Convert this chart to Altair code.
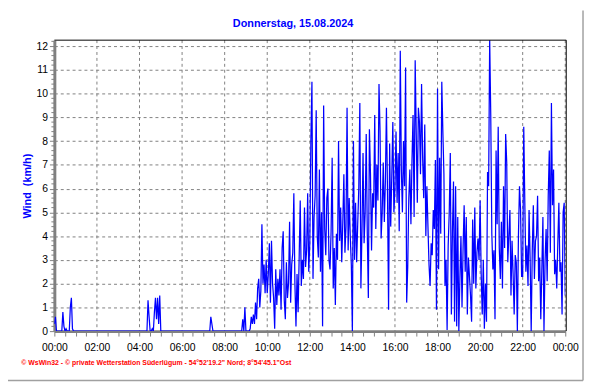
import altair as alt
import pandas as pd

# Wind speed (km/h), 3-minute samples, one list per hour (20 values each)
h00 = [0.3, 0.6, 0, 0, 0, 0, 0, 0, 0.8, 0.2, 0, 0.1, 0, 0, 0, 1.0, 1.4, 0.1, 0, 0]
h01 = [0] * 20
h02 = [0] * 20
h03 = [0] * 20
h04 = [0, 0, 0, 0, 0, 0, 0, 0, 1.3, 0.6, 0, 0, 0.1, 0, 0.8, 1.4, 0.5, 1.4, 0.3, 1.5]
h05 = [0] * 20
h06 = [0] * 20
h07 = [0, 0, 0, 0, 0, 0, 0, 0.6, 0.3, 0, 0, 0, 0, 0, 0, 0, 0, 0, 0, 0]
h08 = [0, 0, 0, 0, 0, 0, 0, 0, 0, 0, 0, 0, 0, 0, 0, 0, 0, 0.5, 0, 1.0]
h09 = [0, 0, 0, 0, 0.1, 0.6, 0.3, 0.7, 0.3, 1.2, 0.5, 1.8, 2.2, 1.0, 1.7, 4.5, 2.0, 2.8, 1.6, 3.0]
h10 = [1.6, 2.4, 3.7, 1.2, 3.8, 2.0, 1.4, 0.1, 2.6, 1.1, 2.2, 1.5, 2.6, 0.9, 3.5, 4.2, 1.3, 0.5, 2.9, 1.4]
h11 = [2.0, 4.6, 1.2, 2.8, 3.3, 5.8, 2.0, 0.2, 2.4, 0.8, 3.1, 5.5, 1.9, 3.0, 2.2, 5.2, 2.7, 3.4, 5.8, 2.5]
h12 = [3.7, 8.0, 10.5, 2.2, 4.8, 5.7, 9.3, 4.0, 3.1, 6.8, 2.5, 5.0, 0.2, 9.5, 4.3, 3.2, 5.6, 6.0, 3.0, 2.6]
h13 = [4.2, 7.3, 1.8, 3.5, 1.1, 4.1, 3.0, 8.0, 3.8, 5.2, 2.9, 4.6, 6.6, 3.3, 4.4, 9.4, 3.4, 5.6, 4.0, 2.8]
h14 = [0.0, 8.0, 3.0, 5.4, 2.9, 4.5, 6.0, 9.6, 1.8, 4.2, 7.5, 3.7, 5.0, 8.3, 4.1, 1.4, 8.5, 6.6, 3.4, 5.8]
h15 = [5.2, 9.1, 4.3, 7.0, 5.5, 10.4, 8.4, 3.9, 5.0, 7.1, 4.6, 6.3, 9.4, 5.8, 0.9, 7.9, 4.4, 6.5, 8.8, 5.0]
h16 = [6.0, 8.4, 5.4, 7.5, 4.2, 11.8, 6.8, 5.0, 8.0, 6.1, 11.1, 1.2, 2.7, 5.6, 6.8, 4.5, 7.2, 9.1, 4.8, 11.4]
h17 = [8.3, 5.4, 9.4, 8.8, 6.6, 10.4, 7.3, 5.6, 8.7, 4.0, 6.1, 4.4, 2.8, 1.9, 3.7, 3.2, 5.1, 4.3, 7.2, 0.9]
h18 = [10.2, 2.6, 7.3, 4.1, 10.5, 8.4, 6.6, 1.9, 3.0, 0.05, 3.6, 5.0, 7.5, 0.7, 4.2, 6.3, 0.4, 6.1, 0.2, 4.8]
h19 = [0.0, 2.2, 4.0, 1.0, 3.5, 5.3, 2.5, 4.8, 0.7, 3.1, 2.3, 1.5, 0.4, 4.7, 2.0, 5.2, 1.8, 3.3, 3.9, 3.0]
h20 = [5.5, 2.4, 0.7, 3.0, 0.1, 2.0, 0.4, 6.7, 6.1, 12.3, 9.1, 4.1, 2.6, 3.4, 0.5, 7.6, 4.5, 8.6, 3.5, 2.2]
h21 = [4.6, 1.8, 6.1, 3.5, 8.3, 7.1, 2.9, 4.0, 5.1, 1.5, 3.8, 2.4, 0.7, 3.2, 2.9, 0.0, 4.0, 6.1, 5.1, 2.3]
h22 = [2.3, 8.6, 5.4, 2.5, 3.6, 1.9, 5.1, 3.0, 0.0, 3.4, 5.3, 2.2, 3.8, 4.0, 5.7, 2.1, 3.1, 0.5, 2.6, 4.8]
h23 = [0.0, 2.9, 4.3, 2.1, 5.7, 7.6, 3.3, 9.6, 5.3, 6.8, 2.4, 3.0, 1.8, 3.7, 5.4, 2.5, 2.9, 0.7, 5.0, 5.4]
wind_end = [1.5]

hour_lists = [h00, h01, h02, h03, h04, h05, h06, h07, h08, h09, h10, h11,
              h12, h13, h14, h15, h16, h17, h18, h19, h20, h21, h22, h23]
wind = [v for lst in hour_lists for v in lst] + wind_end
times = [i * 3 / 60 for i in range(len(wind))]

title_text = "Donnerstag, 15.08.2024"
y_title = "Wind\u00a0 (km/h)"
footer = "\u00a9 WsWin32  -  \u00a9 private Wetterstation S\u00fcderl\u00fcgum  -  54\u00b052'19.2\" Nord; 8\u00b054'45.1\"Ost"
y_ticks = list(range(0, 13))
x_ticks = [i * 0.5 for i in range(49)]
grid_hours = list(range(2, 25, 2))
y_minor = [k / 5 for k in range(0, 62) if k % 5 != 0]

W, H = 518, 295
GRAY = "#808080"

df = pd.DataFrame({"t": times, "v": wind})
xscale = alt.Scale(domain=[0, 24], nice=False, zero=False)
yscale = alt.Scale(domain=[0, 12.25], nice=False, zero=True)

label_expr = ("datum.value % 2 == 0 ? ((datum.value % 24) < 10 ? '0' : '') + "
              "(datum.value % 24) + ':00' : ''")

x_axis = alt.Axis(values=x_ticks, labelExpr=label_expr, grid=False,
                  domainColor=GRAY, domainWidth=3, tickColor=GRAY, tickSize=5,
                  labelFontSize=10.5, labelColor="black", labelPadding=7,
                  labelOverlap=False, labelFlush=False, labelBound=False,
                  title=footer, titleColor="#ff0000", titleFontSize=7,
                  titleFontWeight="bold", titleAnchor="start", titleAlign="left",
                  titleX=-34, titleY=32, titleBaseline="middle")
y_axis = alt.Axis(values=y_ticks, grid=True, gridDash=[3, 3], gridColor=GRAY,
                  gridWidth=1, domainColor=GRAY, domainWidth=3, tickColor=GRAY,
                  tickSize=5, labelPadding=2, labelFontSize=10.5, labelColor="black",
                  title=y_title, titleColor="#0000ff", titleFontSize=11,
                  titleFontWeight="bold", titleX=-27, titleY=H / 2, titleAngle=270,
                  titleBaseline="middle", titleAlign="center")

one = pd.DataFrame({"d": [0]})

vgrid = alt.Chart(pd.DataFrame({"t": grid_hours})).mark_rule(
    color=GRAY, strokeDash=[3, 3], strokeWidth=1
).encode(x=alt.X("t:Q", scale=xscale, axis=x_axis))

minor = alt.Chart(pd.DataFrame({"v": y_minor})).mark_rule(
    color=GRAY, strokeWidth=1
).encode(y=alt.Y("v:Q", scale=yscale, axis=y_axis), x=alt.value(-3), x2=alt.value(0))

line = alt.Chart(df).mark_line(color="#0000ff", strokeWidth=1.25, clip=True).encode(
    x=alt.X("t:Q", scale=xscale, axis=x_axis),
    y=alt.Y("v:Q", scale=yscale, axis=y_axis),
)

top_border = alt.Chart(one).mark_rule(color="black", strokeWidth=1).encode(
    x=alt.value(0), x2=alt.value(W + 1), y=alt.value(0))
right_border = alt.Chart(one).mark_rule(color="black", strokeWidth=1).encode(
    x=alt.value(W + 1), y=alt.value(0), y2=alt.value(H))
frame_right = alt.Chart(one).mark_rule(color="#a0a0a0", strokeWidth=1.5).encode(
    x=alt.value(536), y=alt.value(-30), y2=alt.value(345))
frame_bottom = alt.Chart(one).mark_rule(color="#a0a0a0", strokeWidth=1.5).encode(
    x=alt.value(-47), x2=alt.value(536), y=alt.value(345))

title_mark = alt.Chart(pd.DataFrame({"label": [title_text]})).mark_text(
    color="#0000ff", fontSize=11, fontWeight="bold", font="Liberation Sans",
    align="center", baseline="alphabetic"
).encode(text="label:N", x=alt.value(242), y=alt.value(-13))

chart = alt.layer(vgrid, minor, line, top_border, right_border, frame_right,
                  frame_bottom, title_mark).properties(
    width=W, height=H,
    autosize=alt.AutoSizeParams(type="none"),
    padding={"left": 47, "top": 30, "right": 19, "bottom": 51},
    background="white",
).configure_view(stroke=None).configure_axis(
    labelFont="Liberation Sans", titleFont="Liberation Sans"
)

chart.save("out.html", embed_options={"renderer": "svg", "actions": False})
